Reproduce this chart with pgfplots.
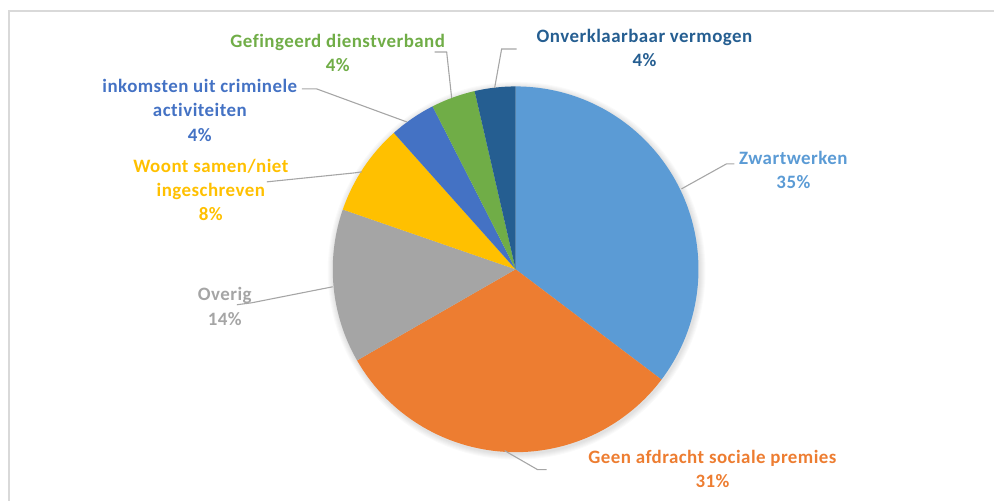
\documentclass[border=0pt]{standalone}
\usepackage{pgfplots}
\usepackage{pgfplotstable}
\pgfplotsset{compat=1.18}
\usepackage{fontspec}
\setmainfont{Carlito}
\newfontfamily\lblfont{Carlito}[LetterSpace=2.5, Ligatures=NoCommon]
\definecolor{zwart}{HTML}{5B9BD5}
\definecolor{geen}{HTML}{ED7D31}
\definecolor{overig}{HTML}{A5A5A5}
\definecolor{woont}{HTML}{FFC000}
\definecolor{inkomsten}{HTML}{4472C4}
\definecolor{gefingeerd}{HTML}{70AD47}
\definecolor{onverklaarbaar}{HTML}{255E91}
\definecolor{leader}{HTML}{A6A6A6}
\definecolor{frame}{HTML}{D9D9D9}
\tikzset{lbl/.style={font=\lblfont\fontsize{19}{24.5}\selectfont\bfseries, align=center, inner sep=0pt}}

\pgfplotstableread{
value colour
35.3 zwart
31.4 geen
13.6 overig
8.1 woont
4.1 inkomsten
3.9 gefingeerd
3.6 onverklaarbaar
}\piedata

\begin{document}
\begin{tikzpicture}
\def\cum{0}
\pgfplotsforeachungrouped \i in {0,...,6}{%
  \pgfplotstablegetelem{\i}{value}\of\piedata
  \pgfmathsetmacro\pa{90-3.6*\cum}%
  \pgfmathsetmacro\cum{\cum+\pgfplotsretval}%
  \pgfmathsetmacro\pb{90-3.6*\cum}%
  \expandafter\xdef\csname pa\i\endcsname{\pa}%
  \expandafter\xdef\csname pb\i\endcsname{\pb}%
  \pgfplotstablegetelem{\i}{colour}\of\piedata
  \expandafter\xdef\csname pc\i\endcsname{\pgfplotsretval}%
}
\begin{axis}[x=1bp, y=1bp, xmin=0, xmax=995, ymin=0, ymax=501,
  y dir=reverse, hide axis, scale only axis, clip=false]
\path (axis cs:0,0) rectangle (axis cs:995,501);
% frame
\draw[frame, line width=1.5bp] (axis cs:9,501) -- (axis cs:9,11) -- (axis cs:995,11);
% soft shadow
\pgfplotsinvokeforeach{1,...,6}{
  \fill[black, opacity=0.018] (axis cs:517,271) circle[radius=183bp+#1bp];
}
% slices
\pgfplotsinvokeforeach{0,...,6}{
  \fill[\csname pc#1\endcsname] (axis cs:516,269.5) -- ++({\csname pa#1\endcsname}:183bp)
    arc[start angle={\csname pa#1\endcsname}, end angle={\csname pb#1\endcsname}, radius=183bp] -- cycle;
}
% leader lines
\draw[leader, line width=1.1bp] (axis cs:682,189) -- (axis cs:727,164) -- (axis cs:735,164);
\draw[leader, line width=1.1bp] (axis cs:505,451) -- (axis cs:538,470) -- (axis cs:547,470);
\draw[leader, line width=1.1bp] (axis cs:333,287) -- (axis cs:252,303) -- (axis cs:237,305);
\draw[leader, line width=1.1bp] (axis cs:362,172) -- (axis cs:355,173) -- (axis cs:267,182);
\draw[leader, line width=1.1bp] (axis cs:407,122) -- (axis cs:317,89) -- (axis cs:302,89);
\draw[leader, line width=1.1bp] (axis cs:452,98) -- (axis cs:447,52) -- (axis cs:435,52);
\draw[leader, line width=1.1bp] (axis cs:495,88) -- (axis cs:502,49) -- (axis cs:517,49);
% labels
\node[lbl, text=zwart] at (axis cs:794,170) {Zwartwerken\\35\%};
\node[lbl, text=geen] at (axis cs:713,469.5) {Geen afdracht sociale premies\\31\%};
\node[lbl, text=overig] at (axis cs:225,306.5) {Overig\\14\%};
\node[lbl, text=woont] at (axis cs:211,190) {Woont samen/niet\\ingeschreven\\8\%};
\node[lbl, text=inkomsten] at (axis cs:200,110.5) {inkomsten uit criminele\\activiteiten\\4\%};
\node[lbl, text=gefingeerd] at (axis cs:338,53) {Gefingeerd dienstverband\\4\%};
\node[lbl, text=onverklaarbaar] at (axis cs:645,48) {Onverklaarbaar vermogen\\4\%};
\end{axis}
\end{tikzpicture}
\end{document}
